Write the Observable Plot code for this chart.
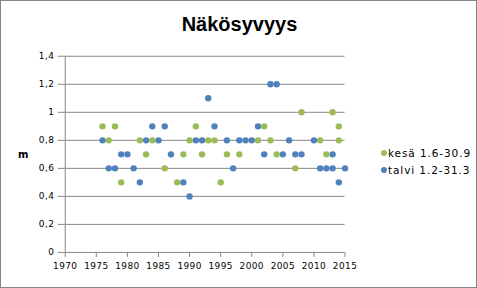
<!DOCTYPE html>
<html>
<head>
<meta charset="utf-8">
<script src="https://cdn.jsdelivr.net/npm/d3@7"></script>
<script src="https://cdn.jsdelivr.net/npm/@observablehq/plot@0.6"></script>
<style>
  body { margin: 0; background: #fff; }
  #wrap { position: relative; width: 477px; height: 288px; box-sizing: border-box; border: 1px solid #868686; overflow: hidden; }
  #wrap svg { position: absolute; left: -1px; top: -1px; }
  #wrap svg text { letter-spacing: 0.4px; }
  #title { position: absolute; left: 0; width: 477px; top: 12px; text-align: center; font: bold 20px "Liberation Sans", Arial, sans-serif; color: #000; }
  #ylab { position: absolute; left: 17px; top: 148px; font: 10px "DejaVu Sans", sans-serif; font-weight: bold; color: #000; }
  .leg { position: absolute; left: 380px; font: 10.5px "DejaVu Sans", sans-serif; letter-spacing: 0.9px; color: #000; white-space: nowrap; }
  .leg i { display: inline-block; width: 6px; height: 6px; border-radius: 50%; margin-right: 1px; vertical-align: 1px; }
</style>
</head>
<body>
<div id="wrap">
  <div id="title">Näkösyvyys</div>
  <div id="ylab">m</div>
</div>
<script>
const seriesNames = ["kesä 1.6-30.9", "talvi 1.2-31.3"];
const seriesColors = ["#9BBB59", "#4F81BD"];

const kesaYears  = [1976,1977,1978,1979,1982,1983,1984,1986,1988,1989,1990,1991,1992,1993,1994,1995,1996,1998,2001,2002,2003,2004,2007,2008,2011,2012,2013,2014,2014];
const kesaValues = [0.9, 0.8, 0.9, 0.5, 0.8, 0.7, 0.8, 0.6, 0.5, 0.7, 0.8, 0.9, 0.7, 0.8, 0.8, 0.5, 0.7, 0.7, 0.8, 0.9, 0.8, 0.7, 0.6, 1.0, 0.8, 0.7, 1.0, 0.9, 0.8];

const talviYears  = [1976,1977,1978,1979,1980,1981,1982,1983,1984,1985,1986,1987,1989,1990,1991,1992,1993,1994,1996,1997,1998,1999,2000,2001,2002,2003,2004,2005,2006,2007,2008,2010,2011,2012,2013,2013,2014,2015];
const talviValues = [0.8, 0.6, 0.6, 0.7, 0.7, 0.6, 0.5, 0.8, 0.9, 0.8, 0.9, 0.7, 0.5, 0.4, 0.8, 0.8, 1.1, 0.9, 0.8, 0.6, 0.8, 0.8, 0.8, 0.9, 0.7, 1.2, 1.2, 0.7, 0.8, 0.7, 0.7, 0.8, 0.6, 0.6, 0.7, 0.6, 0.5, 0.6];

const xTicks = [1970,1975,1980,1985,1990,1995,2000,2005,2010,2015];
const yTicks = [0,0.2,0.4,0.6,0.8,1.0,1.2,1.4];
const yTickLabels = ["0","0,2","0,4","0,6","0,8","1","1,2","1,4"];

const kesa = kesaYears.map((y, i) => ({year: y, value: kesaValues[i], series: seriesNames[0]}));
const talvi = talviYears.map((y, i) => ({year: y, value: talviValues[i], series: seriesNames[1]}));

const grey = "#868686";
const chart = Plot.plot({
  width: 477,
  height: 288,
  marginLeft: 65,
  marginRight: 131,
  marginTop: 56,
  marginBottom: 35,
  style: {fontFamily: "'DejaVu Sans', sans-serif", fontSize: "9px", background: "transparent", color: "#000"},
  x: {domain: [1970, 2015], label: null},
  y: {domain: [0, 1.4], label: null},
  color: {domain: seriesNames, range: seriesColors},
  marks: [
    Plot.gridY(yTicks.slice(1), {stroke: grey, strokeOpacity: 1}),
    Plot.axisY(yTicks, {tickSize: 7, tickPadding: 4, stroke: grey, fill: "#000", tickFormat: (d) => yTickLabels[yTicks.indexOf(d)], label: null}),
    Plot.axisX(xTicks, {tickSize: 5, tickPadding: 5, stroke: grey, fill: "#000", tickFormat: (d) => String(d), label: null}),
    Plot.ruleX([1970], {stroke: grey}),
    Plot.ruleY([0], {stroke: grey}),
    Plot.dot(talvi, {x: "year", y: "value", fill: "series", r: 3.2}),
    Plot.dot(kesa, {x: "year", y: "value", fill: "series", r: 3.2})
  ]
});
const wrap = document.getElementById("wrap");
wrap.appendChild(chart);

seriesNames.forEach((name, i) => {
  const d = document.createElement("div");
  d.className = "leg";
  d.style.top = (146 + i * 17) + "px";
  d.innerHTML = `<i style="background:${seriesColors[i]}"></i>${name}`;
  wrap.appendChild(d);
});
</script>
</body>
</html>
